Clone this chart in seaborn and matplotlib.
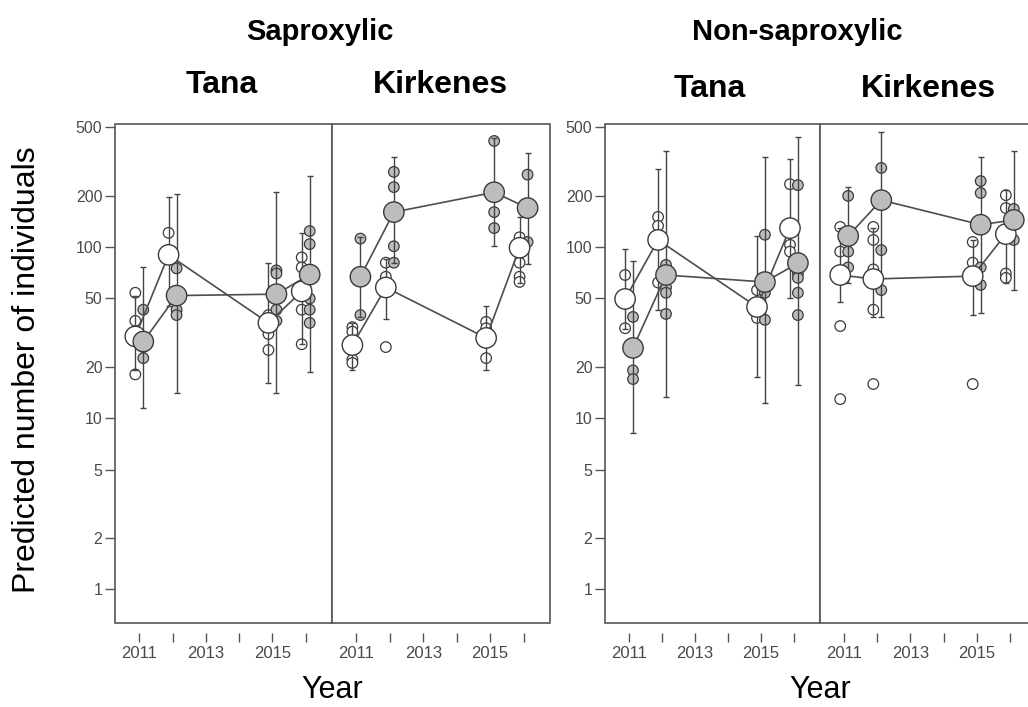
import matplotlib
matplotlib.use("Agg")
import matplotlib.pyplot as plt
import seaborn as sns
import pandas as pd
import numpy as np
from matplotlib.patches import Rectangle
from matplotlib.ticker import NullLocator, FixedLocator

# ---- data ----
years = [2011, 2012, 2015, 2016]

# Saproxylic, Tana
sap_tana_open_mean = [30, 90, 36, 55]
sap_tana_open_lo = [19, 45, 16, 27]
sap_tana_open_hi = [52, 195, 81, 121]
sap_tana_open_raw = [[54, 37, 18], [121], [40, 31, 25], [87, 76, 43, 27]]
sap_tana_filled_mean = [28, 52, 53, 69]
sap_tana_filled_lo = [11.5, 14, 14, 18.5]
sap_tana_filled_hi = [76, 205, 209, 260]
sap_tana_filled_raw = [[43, 26, 22.4], [75, 43, 40], [73, 70, 43, 37], [124, 104, 50, 43, 36]]

# Saproxylic, Kirkenes
sap_kirk_open_mean = [26.7, 58, 29.4, 99]
sap_kirk_open_lo = [19, 38, 19, 62]
sap_kirk_open_hi = [36, 85, 45, 150]
sap_kirk_open_raw = [[34, 32, 22, 21], [81, 67, 26], [36.5, 33.5, 22.4], [114, 81, 67, 62.5]]
sap_kirk_filled_mean = [67, 160, 209, 169]
sap_kirk_filled_lo = [39, 81, 101, 80]
sap_kirk_filled_hi = [114, 336, 434, 355]
sap_kirk_filled_raw = [[112, 40], [275, 224, 101, 81], [417, 160, 129], [265, 107]]

# Non-saproxylic, Tana
non_tana_open_mean = [49.7, 110, 44.6, 129]
non_tana_open_lo = [33, 43, 17.4, 50]
non_tana_open_hi = [97, 286, 116, 327]
non_tana_open_raw = [[68.6, 33.5], [150, 133, 62], [56, 38.5], [233, 103, 94]]
non_tana_filled_mean = [25.7, 68.6, 62.4, 80.6]
non_tana_filled_lo = [8.2, 13.3, 12.2, 15.6]
non_tana_filled_hi = [83, 364, 336, 440]
non_tana_filled_raw = [[39, 19, 16.9], [78.6, 58, 54, 40.6], [118, 54, 37.5], [230, 70, 66, 54, 40]]

# Non-saproxylic, Kirkenes
non_kirk_open_mean = [68.6, 65, 67.6, 119]
non_kirk_open_lo = [47.7, 39, 40, 62]
non_kirk_open_hi = [130, 130, 110, 215]
non_kirk_open_raw = [[131, 94, 34.5, 12.9], [131, 110, 74, 43, 15.8], [107, 81, 15.8], [201, 169, 70, 66]]
non_kirk_filled_mean = [116, 188, 135, 144]
non_kirk_filled_lo = [62, 39, 41, 56]
non_kirk_filled_hi = [224, 470, 336, 364]
non_kirk_filled_raw = [[199, 94, 76], [290, 96, 56], [243, 207, 76, 60], [167, 110]]

ytick_vals = [1, 2, 5, 10, 20, 50, 100, 200, 500]
xtick_vals = [2011, 2012, 2013, 2014, 2015, 2016]
xtick_labels = ["2011", "", "2013", "", "2015", ""]

# ---- build long tables ----
series = {
    ("Saproxylic", "Tana", "open"): (sap_tana_open_mean, sap_tana_open_lo, sap_tana_open_hi, sap_tana_open_raw),
    ("Saproxylic", "Tana", "filled"): (sap_tana_filled_mean, sap_tana_filled_lo, sap_tana_filled_hi, sap_tana_filled_raw),
    ("Saproxylic", "Kirkenes", "open"): (sap_kirk_open_mean, sap_kirk_open_lo, sap_kirk_open_hi, sap_kirk_open_raw),
    ("Saproxylic", "Kirkenes", "filled"): (sap_kirk_filled_mean, sap_kirk_filled_lo, sap_kirk_filled_hi, sap_kirk_filled_raw),
    ("Non-saproxylic", "Tana", "open"): (non_tana_open_mean, non_tana_open_lo, non_tana_open_hi, non_tana_open_raw),
    ("Non-saproxylic", "Tana", "filled"): (non_tana_filled_mean, non_tana_filled_lo, non_tana_filled_hi, non_tana_filled_raw),
    ("Non-saproxylic", "Kirkenes", "open"): (non_kirk_open_mean, non_kirk_open_lo, non_kirk_open_hi, non_kirk_open_raw),
    ("Non-saproxylic", "Kirkenes", "filled"): (non_kirk_filled_mean, non_kirk_filled_lo, non_kirk_filled_hi, non_kirk_filled_raw),
}
dodge = {"open": -0.12, "filled": 0.12}

mean_rows, raw_rows = [], []
for (panel, site, grp), (mn, lo, hi, raw) in series.items():
    for i, yr in enumerate(years):
        xpos = yr + dodge[grp]
        mean_rows.append(dict(panel=panel, site=site, group=grp, x=xpos,
                              mean=mn[i], lo=lo[i], hi=hi[i]))
        for v in raw[i]:
            raw_rows.append(dict(panel=panel, site=site, group=grp, x=xpos, value=v))
mean_df = pd.DataFrame(mean_rows)
raw_df = pd.DataFrame(raw_rows)

# ---- style ----
sns.set_theme(style="white")
plt.rcParams["font.family"] = ["Liberation Sans", "DejaVu Sans"]
plt.rcParams["text.color"] = "black"

fill = {"open": "#ffffff", "filled": "#bdbdbd"}
edge = "#3a3a3a"
line_c = "#4d4d4d"
box_c = "#555555"
tick_txt = "#4a4a4a"
groups = ["open", "filled"]

W, H = 1028, 707
fig = plt.figure(figsize=(W / 100, H / 100), dpi=100)


def px_axes(x0, x1, y0, y1):
    return fig.add_axes([x0 / W, 1 - y1 / H, (x1 - x0) / W, (y1 - y0) / H])


layout = {
    ("Saproxylic", "Tana"): (115, 332),
    ("Saproxylic", "Kirkenes"): (332, 550),
    ("Non-saproxylic", "Tana"): (605, 820),
    ("Non-saproxylic", "Kirkenes"): (820, 1036),
}

for (panel, site), (x0, x1) in layout.items():
    ax = px_axes(x0, x1, 124, 623)
    m = mean_df[(mean_df.panel == panel) & (mean_df.site == site)]
    r = raw_df[(raw_df.panel == panel) & (raw_df.site == site)]

    ax.set_yscale("log")

    sns.scatterplot(data=r, x="x", y="value", hue="group", hue_order=groups,
                    palette=fill, s=58, edgecolor=edge, linewidth=0.9,
                    legend=False, ax=ax, zorder=2)
    for grp in groups:
        sub = m[m.group == grp]
        ax.errorbar(sub.x, sub["mean"],
                    yerr=[sub["mean"] - sub.lo, sub.hi - sub["mean"]],
                    fmt="none", ecolor="#444444", elinewidth=1.0,
                    capsize=2.2, capthick=1.0, zorder=3)
    sns.lineplot(data=m, x="x", y="mean", hue="group", hue_order=groups,
                 palette={"open": line_c, "filled": line_c}, estimator=None,
                 linewidth=1.2, legend=False, ax=ax, zorder=3)
    sns.scatterplot(data=m, x="x", y="mean", hue="group", hue_order=groups,
                    palette=fill, s=215, edgecolor=edge, linewidth=1.0,
                    legend=False, ax=ax, zorder=4)

    ax.set_xlim(2010.27, 2016.79)
    ax.set_ylim(0.633, 524)
    ax.set_xlabel("")
    ax.set_ylabel("")

    for sp in ax.spines.values():
        sp.set_visible(False)
    ax.spines["bottom"].set_position(("outward", 7))
    ax.add_patch(Rectangle((0, 0), 1, 1, transform=ax.transAxes, fill=False,
                           edgecolor=box_c, linewidth=1.2, clip_on=False, zorder=6))

    ax.xaxis.set_major_locator(FixedLocator(xtick_vals))
    ax.set_xticklabels(xtick_labels)
    ax.xaxis.set_minor_locator(NullLocator())
    ax.tick_params(axis="x", bottom=True, direction="out", length=6.5, width=1,
                   color=box_c, pad=3, labelsize=12, labelcolor=tick_txt)

    ax.yaxis.set_minor_locator(NullLocator())
    if site == "Tana":
        ax.yaxis.set_major_locator(FixedLocator(ytick_vals))
        ax.set_yticklabels([str(v) for v in ytick_vals])
        ax.tick_params(axis="y", left=True, direction="out", length=7, width=1,
                       color=box_c, pad=2, labelsize=11.5, labelcolor=tick_txt)
    else:
        ax.tick_params(axis="y", left=False, labelleft=False)


def ftext(x, y, s, **kw):
    fig.text(x / W, 1 - y / H, s, ha="center", va="center", color="black", **kw)


ftext(320, 32, "Saproxylic", fontsize=21, fontweight="bold")
ftext(797, 32, "Non-saproxylic", fontsize=21, fontweight="bold")
ftext(222, 85, "Tana", fontsize=23, fontweight="bold")
ftext(440, 85, "Kirkenes", fontsize=23, fontweight="bold")
ftext(710, 89, "Tana", fontsize=23, fontweight="bold")
ftext(928, 89, "Kirkenes", fontsize=23, fontweight="bold")
ftext(27, 370, "Predicted number of individuals", fontsize=23, rotation=90)
ftext(332, 690, "Year", fontsize=22)
ftext(820, 690, "Year", fontsize=22)

fig.savefig("out.png", dpi=100)
